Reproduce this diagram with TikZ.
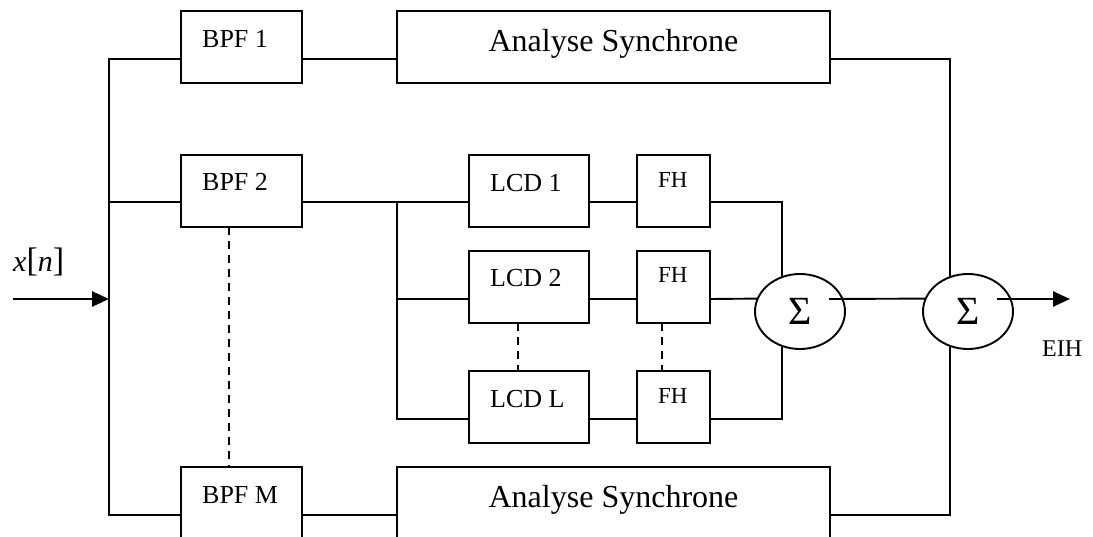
\documentclass[tikz,border=0pt]{standalone}
\usepackage{fontspec}
\setmainfont{Liberation Serif}
\usetikzlibrary{arrows.meta,shapes.geometric,calc}
\begin{document}
\begin{tikzpicture}[x=1pt,y=-1pt,
 wire/.style={line width=1.9pt},
 blk/.style={draw, line width=1.9pt, rectangle, anchor=north west, inner sep=0pt, outer sep=0pt, minimum height=72pt},
 lab/.style={anchor=base west, inner sep=0pt, font=\fontsize{26}{26}\selectfont},
 fhlab/.style={anchor=base west, inner sep=0pt, font=\fontsize{23}{23}\selectfont},
 biglab/.style={anchor=base, inner sep=0pt, font=\fontsize{32}{32}\selectfont},
 sumnode/.style={draw, ellipse, line width=1.9pt, minimum width=90pt, minimum height=75pt, inner sep=0pt, outer sep=0pt, font=\fontsize{40}{40}\selectfont},
 dots/.style={line width=1.6pt, dash pattern=on 8pt off 6pt},
 sig/.style={line width=2.6pt, -{Triangle[length=17pt,width=15pt]}}
]
\useasboundingbox (0,0) rectangle (1093,537);
\clip (0,0) rectangle (1093,537);

% boxes
\node[blk, minimum width=121pt] (bpf1) at (181,11) {};
\node[blk, minimum width=121pt] (bpf2) at (181,155) {};
\node[blk, minimum width=121pt] (bpfM) at (181,467) {};
\node[blk, minimum width=433pt] (as1) at (397,11) {};
\node[blk, minimum width=433pt] (asM) at (397,467) {};
\node[blk, minimum width=120pt] (lcd1) at (469,155) {};
\node[blk, minimum width=120pt] (lcd2) at (469,251) {};
\node[blk, minimum width=120pt] (lcdL) at (469,371) {};
\node[blk, minimum width=73pt] (fh1) at (637,155) {};
\node[blk, minimum width=73pt] (fh2) at (637,251) {};
\node[blk, minimum width=73pt] (fhL) at (637,371) {};
\node[sumnode] (sum1) at (800,311.5) {Σ};
\node[sumnode] (sum2) at (968,311.5) {Σ};

% labels
\node[lab] (t-bpf1) at ($(bpf1.north west)+(21,37)$) {BPF 1};
\node[lab] (t-bpf2) at ($(bpf2.north west)+(21,36)$) {BPF 2};
\node[lab] (t-bpfM) at ($(bpfM.north west)+(21,36)$) {BPF M};
\node[biglab] (t-as1) at ($(as1.north)+(0,41)$) {Analyse Synchrone};
\node[biglab] (t-asM) at ($(asM.north)+(0,40)$) {Analyse Synchrone};
\node[lab] (t-lcd1) at ($(lcd1.north west)+(21,37)$) {LCD 1};
\node[lab] (t-lcd2) at ($(lcd2.north west)+(21,36)$) {LCD 2};
\node[lab] (t-lcdL) at ($(lcdL.north west)+(21,36)$) {LCD L};
\node[fhlab] (t-fh1) at ($(fh1.north west)+(21,33)$) {FH};
\node[fhlab] (t-fh2) at ($(fh2.north west)+(21,32)$) {FH};
\node[fhlab] (t-fhL) at ($(fhL.north west)+(21,32)$) {FH};
\node[anchor=base west, inner sep=0pt, font=\fontsize{24}{24}\selectfont] (eih) at (1042,357) {EIH};
\node[anchor=base west, inner sep=0pt] (xn) at (13,272)
  {\fontsize{30}{30}\selectfont\textit{x}{\fontsize{34}{34}\selectfont[}\textit{n}{\fontsize{34}{34}\selectfont]}};

% row coordinates
\coordinate (r1) at (0,59);
\coordinate (r2) at (0,202);
\coordinate (r3) at (0,299);
\coordinate (r4) at (0,419);
\coordinate (rM) at (0,515);
\coordinate (in) at (13,299);
\coordinate (busIn) at (109,299);
\coordinate (bus2) at (109,202);
\coordinate (busM) at (109,515);
\coordinate (lbusT) at (397,202);
\coordinate (lbusM) at (397,299);
\coordinate (lbusB) at (397,419);
\coordinate (s1out) at (829,299);
\coordinate (s2out) at (997,299);
\coordinate (out) at (1070,299);

% connectors
\draw[wire] (bpf1.west |- r1) -| (busM) -- (bpfM.west |- rM);
\draw[wire] (bus2) -- (bpf2.west |- r2);
\draw[sig] (in) -- (busIn);
\draw[wire] (bpf1.east |- r1) -- (as1.west |- r1);
\draw[wire] (bpfM.east |- rM) -- (asM.west |- rM);
\draw[wire] (bpf2.east |- r2) -- (lcd1.west |- r2);
\draw[wire] (lbusT) -- (lbusB) -- (lcdL.west |- r4);
\draw[wire] (lbusM) -- (lcd2.west |- r3);
\draw[wire] (lcd1.east |- r2) -- (fh1.west |- r2);
\draw[wire] (lcd2.east |- r3) -- (fh2.west |- r3);
\draw[wire] (lcdL.east |- r4) -- (fhL.west |- r4);
\draw[wire] (fh1.east |- r2) -| (sum1.117.6);
\draw[wire] (fh2.east |- r3) -- (sum1.163.6);
\draw[wire] (fhL.east |- r4) -| (sum1.242.4);
\draw[wire] (as1.east |- r1) -| (sum2.117.6);
\draw[wire] (asM.east |- rM) -| (sum2.242.4);
\draw[wire] (s1out) -- (sum2.163.6);
\draw[sig] (s2out) -- (out);

% dashed continuation marks
\draw[dots] ([xshift=-12.5pt]bpf2.south) -- ([xshift=-12.5pt]bpfM.north);
\draw[dots] ([xshift=-11pt]lcd2.south) -- ([xshift=-11pt]lcdL.north);
\draw[dots] ([xshift=-11.5pt]fh2.south) -- ([xshift=-11.5pt]fhL.north);
\end{tikzpicture}
\end{document}
